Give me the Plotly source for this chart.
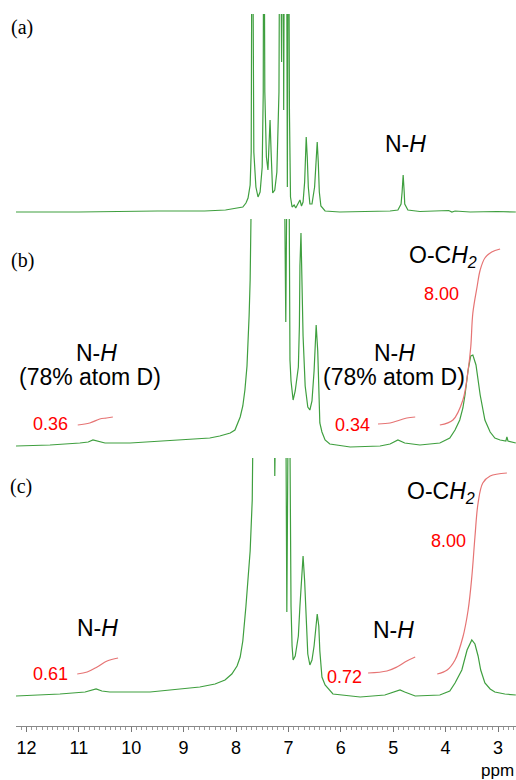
import plotly.graph_objects as go

# ---------------- data (ppm, intensity in arbitrary units) ----------------
a_ppm = [12.20, 11.0, 9.5, 8.6, 8.2, 8.0, 7.87, 7.81, 7.77, 7.73, 7.71, 7.69, 7.67, 7.66, 7.62, 7.58,
         7.54, 7.50, 7.48, 7.47, 7.45, 7.42, 7.39, 7.37, 7.35, 7.33, 7.31, 7.30, 7.26, 7.22, 7.18,
         7.16, 7.13, 7.10, 7.09, 7.07, 7.04, 7.02, 7.00, 6.98, 6.96, 6.93, 6.89, 6.86, 6.82, 6.78,
         6.75, 6.72, 6.69, 6.67, 6.66, 6.64, 6.62, 6.59, 6.55, 6.50, 6.47, 6.45, 6.43, 6.41, 6.38,
         6.34, 6.30, 6.02, 5.06, 4.91, 4.85, 4.83, 4.81, 4.79, 4.78, 4.72, 4.49, 3.94, 3.88, 3.82,
         3.53, 3.02, 2.66]
a_int = [0, 0, 1, 1, 2, 4, 5, 9, 14, 27, 60, 400, 200, 60, 25, 15,
         20, 45, 120, 400, 120, 55, 42, 65, 92, 60, 30, 19, 22, 40, 120,
         400, 150, 400, 102, 400, 400, 25, 400, 100, 15, 5, 7, 4, 8, 12,
         6, 10, 30, 60, 75, 55, 25, 8, 8, 25, 55, 70, 50, 20, 6,
         4, 1, 0, 1, 2, 8, 20, 37, 20, 8, 2, 0.5, 1.5, 0, 1,
         0, 0.5, 0]

b_ppm = [12.20, 11.55, 10.98, 10.82, 10.73, 10.63, 10.50, 10.02, 9.07, 8.50, 8.31, 8.11, 8.02, 7.92,
         7.87, 7.83, 7.79, 7.77, 7.75, 7.73, 7.71, 7.69, 7.67, 7.40, 7.10, 7.08, 7.05, 7.03, 7.01,
         6.99, 6.97, 6.95, 6.93, 6.91, 6.87, 6.83, 6.81, 6.79, 6.78, 6.76, 6.74, 6.72, 6.68, 6.63,
         6.59, 6.55, 6.51, 6.47, 6.44, 6.41, 6.40, 6.36, 6.30, 6.21, 5.82, 5.25, 5.06, 4.91, 4.78,
         4.49, 4.11, 3.92, 3.82, 3.73, 3.67, 3.63, 3.57, 3.52, 3.48, 3.42, 3.34, 3.25, 3.15, 3.06,
         2.96, 2.85, 2.83, 2.81, 2.66]
b_int = [0, 1, 3, 4, 6, 5, 3, 3, 6, 8, 10, 13, 16, 29,
         40, 56, 80, 103, 130, 166, 210, 260, 400, 400, 400, 300, 124, 300, 400,
         300, 86, 65, 53, 46, 55, 75, 79, 120, 180, 213, 170, 110, 60, 39,
         36, 45, 75, 121, 95, 50, 23, 14, 6, 2, -1, 0, 2, 6, 3,
         1, 3, 8, 16, 26, 38, 51, 76, 90, 91, 81, 51, 26, 14, 8,
         6, 5, 9, 5, 3]

c_ppm = [12.20, 11.36, 10.88, 10.79, 10.67, 10.56, 10.41, 9.64, 8.69, 8.40, 8.21, 8.08, 7.98, 7.92,
         7.87, 7.81, 7.77, 7.73, 7.69, 7.67, 7.65, 7.40, 7.30, 7.27, 7.26, 7.24, 7.15, 7.07, 7.05,
         7.03, 7.01, 6.99, 6.97, 6.95, 6.93, 6.91, 6.87, 6.81, 6.78, 6.74, 6.72, 6.69, 6.66, 6.63,
         6.59, 6.55, 6.51, 6.47, 6.45, 6.42, 6.40, 6.36, 6.30, 6.15, 5.63, 5.16, 4.97, 4.87, 4.78,
         4.58, 4.11, 3.92, 3.82, 3.69, 3.59, 3.53, 3.50, 3.44, 3.38, 3.33, 3.25, 3.15, 3.06, 2.87, 2.66]
c_int = [0, 2, 4, 5, 7, 5, 4, 4, 9, 12, 16, 22, 30, 39,
         55, 90, 115, 145, 196, 240, 400, 400, 400, 300, 220, 300, 400, 400, 300,
         84, 300, 400, 250, 90, 50, 36, 40, 60, 90, 125, 140, 115, 70, 42,
         31, 36, 50, 74, 82, 70, 45, 19, 11, 2, -1, 1, 4, 6, 4,
         0, 1, 5, 13, 26, 46, 53, 56, 52, 40, 26, 13, 7, 4, 2, 1]

# integral curves
ib1_ppm = [11.02, 10.79, 10.60, 10.47, 10.35]
ib1_int = [21, 23, 27, 28, 29]
ib2_ppm = [5.29, 5.06, 4.87, 4.74, 4.58]
ib2_int = [22, 23, 26, 28, 29]
ib3_ppm = [4.11, 3.86, 3.67, 3.57, 3.52, 3.48, 3.40, 3.34, 3.25, 3.12, 2.96]
ib3_int = [21, 26, 46, 76, 99, 133, 159, 176, 188, 194, 197]

ic1_ppm = [11.03, 10.84, 10.65, 10.46, 10.25]
ic1_int = [22, 24, 29, 35, 38]
ic2_ppm = [5.48, 5.12, 4.93, 4.74, 4.58]
ic2_int = [23, 25, 29, 35, 39]
ic3_ppm = [4.16, 3.97, 3.82, 3.67, 3.57, 3.50, 3.44, 3.38, 3.29, 3.15, 2.83]
ic3_int = [22, 26, 36, 59, 86, 119, 159, 193, 213, 220, 223]

integral_labels_b = ["0.36", "0.34", "8.00"]
integral_labels_c = ["0.61", "0.72", "8.00"]
tick_vals = [12, 11, 10, 9, 8, 7, 6, 5, 4, 3]

# ---------------- figure ----------------
GREEN = "#3f9f3f"
RED_LINE = "#e67474"
W, H = 516, 780
ML, MR, MT, MB = 16, 0, 14, 54


def px(x):
    return (x - ML) / (W - ML - MR)


def py(y):
    return (H - MB - y) / (H - MT - MB)


fig = go.Figure()
line_g = dict(color=GREEN, width=1.2)
line_r = dict(color=RED_LINE, width=1.2)

fig.add_trace(go.Scatter(x=a_ppm, y=a_int, mode="lines", line=line_g, xaxis="x", yaxis="y3"))
fig.add_trace(go.Scatter(x=b_ppm, y=b_int, mode="lines", line=line_g, xaxis="x", yaxis="y2"))
fig.add_trace(go.Scatter(x=c_ppm, y=c_int, mode="lines", line=line_g, xaxis="x", yaxis="y"))
for xs, ys in [(ib1_ppm, ib1_int), (ib2_ppm, ib2_int), (ib3_ppm, ib3_int)]:
    fig.add_trace(go.Scatter(x=xs, y=ys, mode="lines", line=line_r, line_shape="spline",
                             xaxis="x", yaxis="y2"))
for xs, ys in [(ic1_ppm, ic1_int), (ic2_ppm, ic2_int), (ic3_ppm, ic3_int)]:
    fig.add_trace(go.Scatter(x=xs, y=ys, mode="lines", line=line_r, line_shape="spline",
                             xaxis="x", yaxis="y"))

ppm_left = 3 + (498 - ML) / 52.4
ppm_right = 3 - (W - 498) / 52.4

fig.update_layout(
    width=W, height=H, margin=dict(l=ML, r=MR, t=MT, b=MB),
    paper_bgcolor="white", plot_bgcolor="white", showlegend=False,
    xaxis=dict(range=[ppm_left, ppm_right], anchor="free", position=0,
               tickvals=tick_vals, ticks="outside", ticklen=5, tickcolor="#777",
               showline=True, linecolor="#888", linewidth=1, showgrid=False, zeroline=False,
               tickfont=dict(family="Liberation Sans, Arial", size=18, color="black"),
               minor=dict(dtick=0.1, tick0=0, ticks="outside", ticklen=3, tickcolor="#999",
                          showgrid=False)),
    yaxis=dict(domain=[0, py(458)], range=[-30, 238], visible=False),
    yaxis2=dict(domain=[py(455), py(219)], range=[-9, 227], visible=False),
    yaxis3=dict(domain=[py(218), 1.0], range=[-6, 198], visible=False),
)

SANS = "Liberation Sans, Arial"
SERIF = "Liberation Serif, Times New Roman"


def ann(x, y, text, size, color="black", family=SANS):
    fig.add_annotation(x=px(x), y=py(y), xref="paper", yref="paper", text=text,
                       showarrow=False, xanchor="center", yanchor="middle",
                       font=dict(family=family, size=size, color=color))


ann(22, 28, "(a)", 20, family=SERIF)
ann(22, 260, "(b)", 20, family=SERIF)
ann(21, 486, "(c)", 20, family=SERIF)

ann(405, 144, "N-<i>H</i>", 23)
ann(96, 353, "N-<i>H</i>", 23)
ann(90, 377, "(78% atom D)", 23)
ann(394, 353, "N-<i>H</i>", 23)
ann(394, 377, "(78% atom D)", 23)
ann(443, 256, "O-C<i>H<sub>2</sub></i>", 23)
ann(97, 628, "N-<i>H</i>", 23)
ann(393, 630, "N-<i>H</i>", 23)
ann(441, 493, "O-C<i>H<sub>2</sub></i>", 23)

ann(50, 424, integral_labels_b[0], 18, "#ff0000")
ann(352, 425, integral_labels_b[1], 18, "#ff0000")
ann(441, 294, integral_labels_b[2], 18, "#ff0000")
ann(50, 674, integral_labels_c[0], 18, "#ff0000")
ann(344, 677, integral_labels_c[1], 18, "#ff0000")
ann(448, 541, integral_labels_c[2], 18, "#ff0000")

ann(497, 770, "ppm", 17)

fig.write_html("out.html")
